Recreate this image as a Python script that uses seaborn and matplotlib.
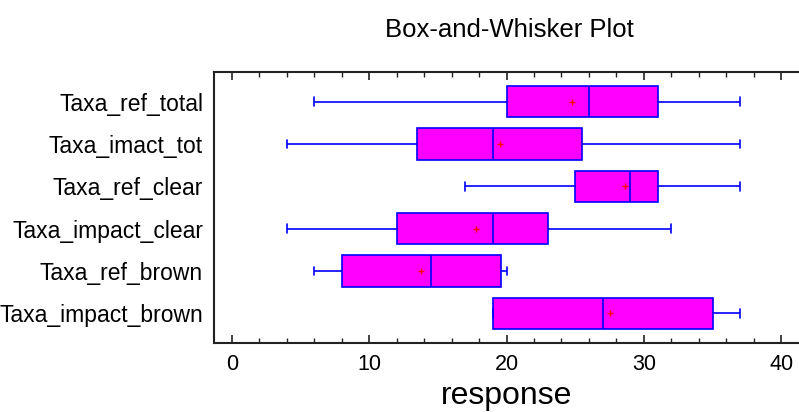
import numpy as np
import pandas as pd
import matplotlib
matplotlib.use("Agg")
import matplotlib.pyplot as plt
from matplotlib.ticker import MultipleLocator
import seaborn as sns

# Five-number summaries and means for each sample
samples = ["Taxa_ref_total", "Taxa_imact_tot", "Taxa_ref_clear",
           "Taxa_impact_clear", "Taxa_ref_brown", "Taxa_impact_brown"]
mins = [6, 4, 17, 4, 6, 19]
q1s = [20, 13.5, 25, 12, 8, 19]
medians = [26, 19, 29, 19, 14.5, 27]
q3s = [31, 25.5, 31, 23, 19.6, 35]
maxs = [37, 37, 37, 32, 20, 37]
means = [24.8, 19.5, 28.6, 17.8, 13.8, 27.5]

rows = []
for name, lo, a, m, b, hi in zip(samples, mins, q1s, medians, q3s, maxs):
    for v in (lo, a, m, b, hi):
        rows.append({"sample": name, "response": v})
df = pd.DataFrame(rows)
df_mean = pd.DataFrame({"sample": samples, "response": means})

sns.set_style("white")
plt.rcParams["font.family"] = ["Liberation Sans", "DejaVu Sans"]
plt.rcParams["text.color"] = "black"
plt.rcParams["axes.labelcolor"] = "black"
plt.rcParams["xtick.color"] = "black"
plt.rcParams["ytick.color"] = "black"

fig = plt.figure(figsize=(7.99, 4.12), dpi=100)
ax = fig.add_axes([0.268, 0.1675, 0.732, 0.6577])

sns.boxplot(data=df, x="response", y="sample", order=samples, orient="h",
            color="#FF00FF", linecolor="#0000FF", saturation=1, width=0.74,
            whis=(0, 100), linewidth=1.2, capwidths=0.2, showfliers=False,
            ax=ax)
sns.scatterplot(data=df_mean, x="response", y="sample", marker="+",
                color="red", s=20, linewidth=1.0, ax=ax, zorder=5)

ax.set_xlim(-1.3, 41.3)
ax.set_ylim(5.7, -0.7)
ax.xaxis.set_major_locator(MultipleLocator(10))
ax.xaxis.set_minor_locator(MultipleLocator(2))
ax.tick_params(axis="x", which="major", direction="in", length=6, width=1.2,
               top=True, bottom=True, labelsize=15.5, pad=8, color="#222222")
ax.tick_params(axis="x", which="minor", direction="in", length=3.5, width=1,
               top=True, bottom=True, color="#222222")
ax.tick_params(axis="y", length=0, labelsize=16.5, pad=8)

for side in ("left", "top", "bottom"):
    ax.spines[side].set_visible(True)
    ax.spines[side].set_color("#222222")
    ax.spines[side].set_linewidth(1.5)
ax.spines["right"].set_visible(False)

ax.set_xlabel("response", fontsize=23, labelpad=4)
ax.set_ylabel("")
fig.text(0.638, 0.927, "Box-and-Whisker Plot", ha="center", va="center",
         fontsize=18.5)

fig.savefig("out.png", dpi=100)
